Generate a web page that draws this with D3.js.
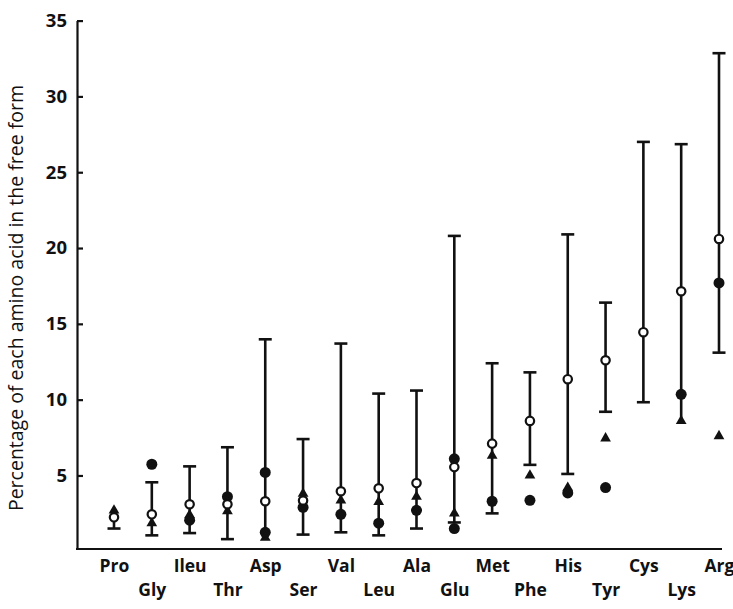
<!DOCTYPE html>
<html>
<head>
<meta charset="utf-8">
<script src="https://cdn.jsdelivr.net/npm/d3@7"></script>
<style>
  body { margin: 0; background: #fff; }
  text { font-family: "Open Sans", "DejaVu Sans", sans-serif; fill: #111; }
</style>
</head>
<body>
<svg width="733" height="609"></svg>
<script>
// amino acids, in the order of the x axis
var names = ["Pro", "Gly", "Ileu", "Thr", "Asp", "Ser", "Val", "Leu", "Ala",
             "Glu", "Met", "Phe", "His", "Tyr", "Cys", "Lys", "Arg"];

// range bars (top cap / bottom cap)
var high = [2.6, 4.55, 5.6, 6.86, 13.98, 7.4, 13.7, 10.4, 10.6,
            20.8, 12.4, 11.8, 20.9, 16.4, 27.0, 26.85, 32.85];
var low  = [1.5, 1.05, 1.2, 0.8, 0.8, 1.1, 1.25, 1.05, 1.5,
            1.9, 2.5, 5.7, 5.1, 9.2, 9.83, 8.6, 13.1];

// open circles
var openPts = [2.24, 2.44, 3.1, 3.1, 3.3, 3.35, 3.96, 4.15, 4.5,
               5.55, 7.1, 8.6, 11.35, 12.6, 14.45, 17.15, 20.6];
// filled circles
var filledPts = [null, 5.74, 2.05, 3.6, 5.2, 2.9, 2.44, 1.85, 2.7,
                 6.1, 3.3, 3.36, 3.85, 4.2, null, 10.35, 17.7];
// second filled circle (Asp, Glu)
var filledPts2 = [null, null, null, null, 1.25, null, null, null, null,
                  1.5, null, null, null, null, null, null, null];
// filled triangles
var triPts = [2.7, 1.85, 2.4, 2.65, 0.9, 3.8, 3.36, 3.25, 3.6,
              2.5, 6.3, 5.0, 4.2, 7.45, null, 8.6, 7.6];

var yTicks = [5, 10, 15, 20, 25, 30, 35];

var svg = d3.select("svg");
var axisX = 77, baseY = 549;

var x = d3.scalePoint().domain(names).range([114, 719]);
var y = d3.scaleLinear().domain([0.15, 35]).range([baseY, 20.6]);

// y axis, ticks pointing inward
var gy = svg.append("g")
    .attr("transform", "translate(" + axisX + ",0)")
    .call(d3.axisLeft(y).tickValues(yTicks).tickSize(-6).tickSizeOuter(0).tickPadding(10));
gy.select(".domain").attr("stroke", "#111").attr("stroke-width", 2.2);
gy.selectAll(".tick line").attr("stroke", "#111").attr("stroke-width", 2.2);
gy.selectAll(".tick text")
    .style("font-size", "18.5px").style("font-weight", "700").attr("fill", "#111");

// x axis: staggered labels
var gx = svg.append("g")
    .attr("transform", "translate(0," + baseY + ")")
    .call(d3.axisBottom(x).tickSize(0));
gx.select(".domain").remove();
gx.selectAll(".tick text")
    .attr("dy", null)
    .attr("y", function(d, i) { return i % 2 == 0 ? 23 : 47; })
    .style("font-size", "17.5px").style("font-weight", "700").attr("fill", "#111");

svg.append("line")
    .attr("x1", axisX - 1).attr("x2", 722)
    .attr("y1", baseY).attr("y2", baseY)
    .attr("stroke", "#111").attr("stroke-width", 2.2);

// y title
svg.append("text")
    .attr("transform", "translate(23," + 298 + ") rotate(-90)")
    .attr("text-anchor", "middle")
    .style("font-size", "19.5px").style("font-weight", "500")
    .text("Percentage of each amino acid in the free form");

var data = names.map(function(n, i) {
    return { name: n, high: high[i], low: low[i], open: openPts[i],
             filled: filledPts[i], filled2: filledPts2[i], tri: triPts[i] };
});

var bars = svg.append("g");
bars.selectAll("line.bar").data(data).enter().append("line")
    .attr("class", "bar")
    .attr("x1", function(d) { return x(d.name); })
    .attr("x2", function(d) { return x(d.name); })
    .attr("y1", function(d) { return y(d.high); })
    .attr("y2", function(d) { return y(d.low); })
    .attr("stroke", "#111").attr("stroke-width", 2.6);

// caps, left out where a marker sits on the end of the bar
var capW = 6.5;
["high", "low"].forEach(function(k) {
    bars.selectAll("line.cap-" + k)
        .data(data.filter(function(d) { return d.tri == null || Math.abs(d[k] - d.tri) > 0.25; }))
        .enter().append("line")
        .attr("class", "cap-" + k)
        .attr("x1", function(d) { return x(d.name) - capW; })
        .attr("x2", function(d) { return x(d.name) + capW; })
        .attr("y1", function(d) { return y(d[k]); })
        .attr("y2", function(d) { return y(d[k]); })
        .attr("stroke", "#111").attr("stroke-width", 2.6);
});

var tri = d3.symbol().type(d3.symbolTriangle).size(50);
svg.append("g").selectAll("path")
    .data(data.filter(function(d) { return d.tri != null; }))
    .enter().append("path")
    .attr("d", tri)
    .attr("transform", function(d) { return "translate(" + x(d.name) + "," + y(d.tri) + ")"; })
    .attr("fill", "#111");

svg.append("g").selectAll("circle")
    .data(data.filter(function(d) { return d.filled != null; }))
    .enter().append("circle")
    .attr("cx", function(d) { return x(d.name); })
    .attr("cy", function(d) { return y(d.filled); })
    .attr("r", 5.5)
    .attr("fill", "#111");

svg.append("g").selectAll("circle")
    .data(data.filter(function(d) { return d.filled2 != null; }))
    .enter().append("circle")
    .attr("cx", function(d) { return x(d.name); })
    .attr("cy", function(d) { return y(d.filled2); })
    .attr("r", 5.5)
    .attr("fill", "#111");

svg.append("g").selectAll("circle")
    .data(data)
    .enter().append("circle")
    .attr("cx", function(d) { return x(d.name); })
    .attr("cy", function(d) { return y(d.open); })
    .attr("r", 4.2)
    .attr("fill", "#fff")
    .attr("stroke", "#111").attr("stroke-width", 2.2);
</script>
</body>
</html>
